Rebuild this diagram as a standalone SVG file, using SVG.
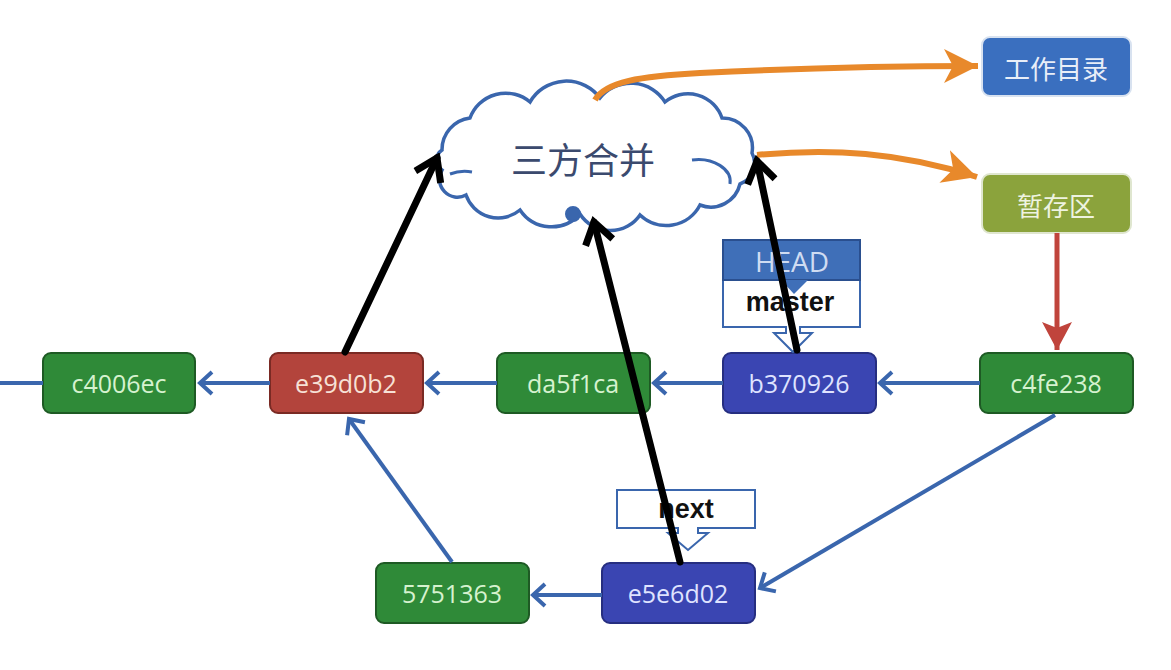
<svg xmlns="http://www.w3.org/2000/svg" width="1171" height="670" viewBox="0 0 1171 670">
<defs>
<style>
.node rect{stroke-width:2}
.green rect{fill:#2f8a38;stroke:#1e5a24}
.red rect{fill:#b3443c;stroke:#7a2a24}
.blue rect{fill:#3a45b2;stroke:#262e80}
.hash{font-family:"Open Sans","DejaVu Sans",sans-serif;font-size:25px;text-anchor:middle;dominant-baseline:central}
.green text{fill:#d6f2cf}
.red text{fill:#f7e1d6}
.blue text{fill:#dfe3ff}
.cjk{font-family:"Noto Sans CJK SC","Noto Sans",sans-serif;text-anchor:middle;dominant-baseline:central}
.bl{stroke:#3a66ad;stroke-width:4;fill:none}
.bk{stroke:#000;stroke-width:7;fill:none;stroke-linecap:round}
.or{stroke:#e8892b;stroke-width:6;fill:none}
</style>
<marker id="mb" markerUnits="userSpaceOnUse" markerWidth="24" markerHeight="26" refX="15" refY="13" orient="auto">
<path d="M3,2 L15,13 L3,24" fill="none" stroke="#3a66ad" stroke-width="4"/>
</marker>
<marker id="mk" markerUnits="userSpaceOnUse" markerWidth="30" markerHeight="34" refX="24" refY="17" orient="auto">
<path d="M3,3 L24,17 L3,31" fill="none" stroke="#000" stroke-width="7" stroke-linejoin="miter"/>
</marker>
<marker id="mo" markerUnits="userSpaceOnUse" markerWidth="38" markerHeight="38" refX="34" refY="19" orient="auto">
<path d="M0,2 L34,19 L0,36 L9,19 Z" fill="#e8892b"/>
</marker>
<marker id="mr" markerUnits="userSpaceOnUse" markerWidth="34" markerHeight="34" refX="28" refY="17" orient="auto">
<path d="M0,2 L28,17 L0,32 L6,17 Z" fill="#c0443c"/>
</marker>
</defs>
<rect width="1171" height="670" fill="#ffffff"/>

<g id="cloud">
<path d="M442,150 A32,32 0 0 1 470,118 A38,38 0 0 1 530,102 A42,42 0 0 1 600,98 A40,40 0 0 1 665,102 A36,36 0 0 1 722,118 A30,30 0 0 1 752,153 A22,22 0 0 1 740,184 A30,30 0 0 1 700,205 A38,38 0 0 1 640,215 A36,36 0 0 1 580,214 A38,38 0 0 1 520,210 A34,34 0 0 1 466,195 A18,18 0 0 1 442,170 A12,12 0 0 1 442,150 Z" fill="#ffffff" stroke="#3a66ad" stroke-width="3.5"/>
<path d="M692,160 A32,22 0 0 1 730,184" fill="none" stroke="#3a66ad" stroke-width="3"/>
<path d="M450,174 A30,20 0 0 1 472,172" fill="none" stroke="#3a66ad" stroke-width="3"/>
<circle cx="573" cy="214" r="7" fill="#3a66ad" stroke="#3a66ad" stroke-width="2"/>
<text x="583" y="158" class="cjk" font-size="36" fill="#3b4a6e">三方合并</text>
</g>

<g id="workdir"><rect x="982" y="37" width="149" height="59" rx="8" fill="#3a6fbf" stroke="#d8e2f0" stroke-width="2"/><text x="1056" y="67" class="cjk" font-size="26" fill="#e8eef8">工作目录</text></g>
<g id="stage"><rect x="982" y="174" width="149" height="59" rx="8" fill="#8ba33c" stroke="#dfe6cf" stroke-width="2"/><text x="1056" y="204" class="cjk" font-size="26" fill="#eef3e0">暂存区</text></g>

<g id="n_c4006ec" class="node green"><rect x="43" y="353" width="152" height="60" rx="8"/><text x="119" y="383" class="hash">c4006ec</text></g>
<g id="n_e39d0b2" class="node red"><rect x="270" y="353" width="153" height="60" rx="8"/><text x="346" y="383" class="hash">e39d0b2</text></g>
<g id="n_da5f1ca" class="node green"><rect x="497" y="353" width="153" height="60" rx="8"/><text x="573" y="383" class="hash">da5f1ca</text></g>
<g id="n_b370926" class="node blue"><rect x="723" y="353" width="153" height="60" rx="8"/><text x="799" y="383" class="hash">b370926</text></g>
<g id="n_c4fe238" class="node green"><rect x="980" y="353" width="153" height="60" rx="8"/><text x="1056" y="383" class="hash">c4fe238</text></g>
<g id="n_5751363" class="node green"><rect x="376" y="563" width="153" height="60" rx="8"/><text x="452" y="593" class="hash">5751363</text></g>
<g id="n_e5e6d02" class="node blue"><rect x="602" y="563" width="153" height="60" rx="8"/><text x="678" y="593" class="hash">e5e6d02</text></g>

<g id="master">
<path d="M723,280 H860 V327 H800 V333 H812 L793,352 L774,333 H786 V327 H723 Z" fill="#ffffff" stroke="#3a66ad" stroke-width="2"/>
<text x="790" y="302" font-family="'Liberation Sans',Arial,sans-serif" font-weight="bold" font-size="27" text-anchor="middle" dominant-baseline="central" fill="#111">master</text>
</g>
<g id="head">
<rect x="723" y="240" width="137" height="40" fill="#3f6fb8" stroke="#2a4f8f" stroke-width="2"/>
<path d="M781,280 H808 L794,294 Z" fill="#3f6fb8"/>
<text x="792" y="261" font-family="'Open Sans',sans-serif" font-size="28" text-anchor="middle" dominant-baseline="central" fill="#cfdcf2">HEAD</text>
</g>
<g id="next">
<path d="M617,490 H755 V528 H698 V533 H708 L688,550 L668,533 H678 V528 H617 Z" fill="#ffffff" stroke="#3a66ad" stroke-width="2"/>
<text x="686" y="509" font-family="'Liberation Sans',Arial,sans-serif" font-weight="bold" font-size="27" text-anchor="middle" dominant-baseline="central" fill="#111">next</text>
</g>

<g id="connectors">
<path class="bl" d="M0,383 H43"/>
<path class="bl" d="M270,383 H200" marker-end="url(#mb)"/>
<path class="bl" d="M497,383 H427" marker-end="url(#mb)"/>
<path class="bl" d="M723,383 H654" marker-end="url(#mb)"/>
<path class="bl" d="M980,383 H880" marker-end="url(#mb)"/>
<path class="bl" d="M1055,415 L760,588" marker-end="url(#mb)"/>
<path class="bl" d="M602,595 H533" marker-end="url(#mb)"/>
<path class="bl" d="M452,562 L349,419" marker-end="url(#mb)"/>
<path class="or" d="M595,100 C605,82 640,76 700,73 C800,68 900,66 978,66" marker-end="url(#mo)"/>
<path class="or" d="M757,155 C830,148 900,152 977,177" marker-end="url(#mo)"/>
<path d="M1057,233 V350" stroke="#c0443c" stroke-width="5" fill="none" marker-end="url(#mr)"/>
<path class="bk" d="M345,352 L437,158" marker-end="url(#mk)"/>
<path class="bk" d="M680,562 L594,222" marker-end="url(#mk)"/>
<path class="bk" d="M797,350 L757,161" marker-end="url(#mk)"/>
</g>
</svg>
